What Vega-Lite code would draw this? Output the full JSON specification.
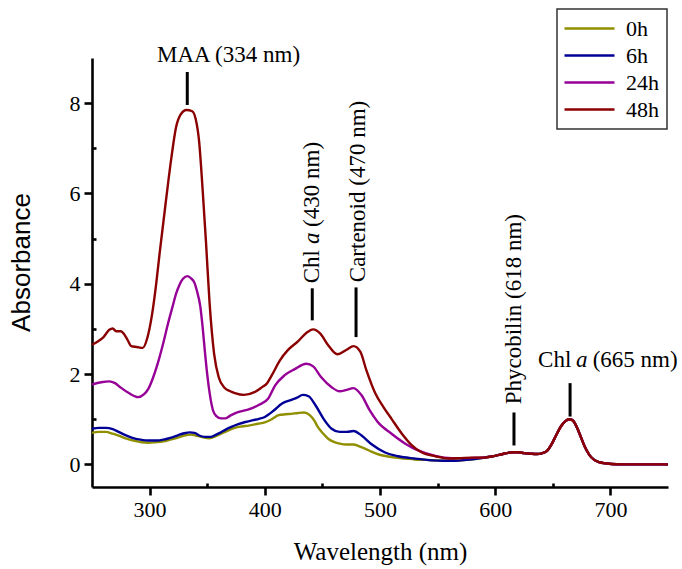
{
"$schema": "https://vega.github.io/schema/vega-lite/v6.json",
"width": 576, "height": 429,
"autosize": "none",
"padding": {"left": 92, "top": 58, "right": 14, "bottom": 82},
"background": "white",
"config": {
 "view": {"stroke": null},
 "axis": {"grid": false, "domainColor": "black", "domainWidth": 2.6, "tickColor": "black", "tickWidth": 2.6, "labelFont": "Liberation Serif, Times New Roman, serif", "labelFontSize": 22, "labelColor": "black", "titleColor": "black", "titleFontWeight": "normal"},
 "legend": {"strokeColor": "#333333", "strokeWidth": 1.5, "padding": 8, "symbolType": "M-2.5,0H2.5", "symbolSize": 400, "symbolOffset": 13, "symbolStrokeWidth": 2.5, "labelFont": "Liberation Serif, Times New Roman, serif", "labelFontSize": 22, "labelColor": "black", "labelOffset": 25, "rowPadding": 4}
},
"layer": [
 {
  "data": {"values": [
   {"s":"0h","w":250,"a":0.70},{"s":"0h","w":256,"a":0.72},{"s":"0h","w":262,"a":0.72},{"s":"0h","w":268,"a":0.68},{"s":"0h","w":273,"a":0.64},{"s":"0h","w":280,"a":0.57},{"s":"0h","w":287,"a":0.52},{"s":"0h","w":293,"a":0.49},{"s":"0h","w":299,"a":0.48},{"s":"0h","w":305,"a":0.49},{"s":"0h","w":312,"a":0.51},{"s":"0h","w":318,"a":0.55},{"s":"0h","w":324,"a":0.59},{"s":"0h","w":330,"a":0.64},{"s":"0h","w":336,"a":0.66},{"s":"0h","w":340,"a":0.64},{"s":"0h","w":345,"a":0.61},{"s":"0h","w":352,"a":0.58},{"s":"0h","w":357,"a":0.62},{"s":"0h","w":362,"a":0.68},{"s":"0h","w":368,"a":0.75},{"s":"0h","w":374,"a":0.81},{"s":"0h","w":380,"a":0.84},{"s":"0h","w":386,"a":0.86},{"s":"0h","w":394,"a":0.90},{"s":"0h","w":400,"a":0.93},{"s":"0h","w":406,"a":1.00},{"s":"0h","w":412,"a":1.09},{"s":"0h","w":418,"a":1.11},{"s":"0h","w":423,"a":1.12},{"s":"0h","w":429,"a":1.14},{"s":"0h","w":434,"a":1.15},{"s":"0h","w":439,"a":1.09},{"s":"0h","w":443,"a":0.97},{"s":"0h","w":446,"a":0.83},{"s":"0h","w":450,"a":0.70},{"s":"0h","w":455,"a":0.57},{"s":"0h","w":460,"a":0.50},{"s":"0h","w":465,"a":0.46},{"s":"0h","w":471,"a":0.44},{"s":"0h","w":477,"a":0.44},{"s":"0h","w":482,"a":0.40},{"s":"0h","w":487,"a":0.35},{"s":"0h","w":493,"a":0.28},{"s":"0h","w":499,"a":0.22},{"s":"0h","w":506,"a":0.18},{"s":"0h","w":513,"a":0.15},{"s":"0h","w":522,"a":0.13},{"s":"0h","w":530,"a":0.11},{"s":"0h","w":540,"a":0.10},{"s":"0h","w":548,"a":0.09},{"s":"0h","w":556,"a":0.08},{"s":"0h","w":565,"a":0.08},{"s":"0h","w":575,"a":0.10},{"s":"0h","w":585,"a":0.13},
   {"s":"0h","w":590,"a":0.15},{"s":"0h","w":595,"a":0.17},{"s":"0h","w":600,"a":0.19},{"s":"0h","w":605,"a":0.22},{"s":"0h","w":610,"a":0.25},{"s":"0h","w":615,"a":0.27},{"s":"0h","w":620,"a":0.27},{"s":"0h","w":625,"a":0.25},{"s":"0h","w":630,"a":0.24},{"s":"0h","w":636,"a":0.23},{"s":"0h","w":641,"a":0.25},{"s":"0h","w":645,"a":0.30},{"s":"0h","w":649,"a":0.45},{"s":"0h","w":653,"a":0.65},{"s":"0h","w":657,"a":0.84},{"s":"0h","w":661,"a":0.96},{"s":"0h","w":664,"a":1.00},{"s":"0h","w":667,"a":0.98},{"s":"0h","w":670,"a":0.87},{"s":"0h","w":674,"a":0.63},{"s":"0h","w":678,"a":0.38},{"s":"0h","w":682,"a":0.20},{"s":"0h","w":686,"a":0.10},{"s":"0h","w":690,"a":0.05},{"s":"0h","w":697,"a":0.02},{"s":"0h","w":705,"a":0.005},{"s":"0h","w":720,"a":0},{"s":"0h","w":750,"a":0},
   {"s":"6h","w":250,"a":0.79},{"s":"6h","w":256,"a":0.81},{"s":"6h","w":262,"a":0.81},{"s":"6h","w":268,"a":0.78},{"s":"6h","w":273,"a":0.72},{"s":"6h","w":279,"a":0.65},{"s":"6h","w":285,"a":0.59},{"s":"6h","w":292,"a":0.55},{"s":"6h","w":299,"a":0.53},{"s":"6h","w":306,"a":0.53},{"s":"6h","w":312,"a":0.55},{"s":"6h","w":318,"a":0.59},{"s":"6h","w":324,"a":0.64},{"s":"6h","w":330,"a":0.69},{"s":"6h","w":335,"a":0.71},{"s":"6h","w":339,"a":0.70},{"s":"6h","w":343,"a":0.64},{"s":"6h","w":348,"a":0.61},{"s":"6h","w":353,"a":0.61},{"s":"6h","w":357,"a":0.65},{"s":"6h","w":361,"a":0.70},{"s":"6h","w":366,"a":0.77},{"s":"6h","w":371,"a":0.83},{"s":"6h","w":377,"a":0.89},{"s":"6h","w":383,"a":0.94},{"s":"6h","w":390,"a":0.98},{"s":"6h","w":395,"a":1.01},{"s":"6h","w":400,"a":1.05},{"s":"6h","w":404,"a":1.12},{"s":"6h","w":408,"a":1.20},{"s":"6h","w":415,"a":1.35},{"s":"6h","w":423,"a":1.43},{"s":"6h","w":428,"a":1.48},{"s":"6h","w":433,"a":1.54},{"s":"6h","w":438,"a":1.51},{"s":"6h","w":444,"a":1.31},{"s":"6h","w":451,"a":1.01},{"s":"6h","w":458,"a":0.79},{"s":"6h","w":465,"a":0.72},{"s":"6h","w":471,"a":0.72},{"s":"6h","w":477,"a":0.74},{"s":"6h","w":484,"a":0.64},{"s":"6h","w":493,"a":0.44},{"s":"6h","w":504,"a":0.27},{"s":"6h","w":516,"a":0.18},{"s":"6h","w":530,"a":0.13},{"s":"6h","w":545,"a":0.09},{"s":"6h","w":555,"a":0.08},{"s":"6h","w":565,"a":0.08},{"s":"6h","w":575,"a":0.10},{"s":"6h","w":585,"a":0.13},
   {"s":"6h","w":590,"a":0.15},{"s":"6h","w":595,"a":0.17},{"s":"6h","w":600,"a":0.19},{"s":"6h","w":605,"a":0.22},{"s":"6h","w":610,"a":0.25},{"s":"6h","w":615,"a":0.27},{"s":"6h","w":620,"a":0.27},{"s":"6h","w":625,"a":0.25},{"s":"6h","w":630,"a":0.24},{"s":"6h","w":636,"a":0.23},{"s":"6h","w":641,"a":0.25},{"s":"6h","w":645,"a":0.30},{"s":"6h","w":649,"a":0.45},{"s":"6h","w":653,"a":0.65},{"s":"6h","w":657,"a":0.84},{"s":"6h","w":661,"a":0.96},{"s":"6h","w":664,"a":1.00},{"s":"6h","w":667,"a":0.98},{"s":"6h","w":670,"a":0.87},{"s":"6h","w":674,"a":0.63},{"s":"6h","w":678,"a":0.38},{"s":"6h","w":682,"a":0.20},{"s":"6h","w":686,"a":0.10},{"s":"6h","w":690,"a":0.05},{"s":"6h","w":697,"a":0.02},{"s":"6h","w":705,"a":0.005},{"s":"6h","w":720,"a":0},{"s":"6h","w":750,"a":0},
   {"s":"24h","w":250,"a":1.77},{"s":"24h","w":258,"a":1.82},{"s":"24h","w":265,"a":1.84},{"s":"24h","w":270,"a":1.80},{"s":"24h","w":275,"a":1.70},{"s":"24h","w":282,"a":1.58},{"s":"24h","w":290,"a":1.49},{"s":"24h","w":295,"a":1.55},{"s":"24h","w":299,"a":1.68},{"s":"24h","w":303,"a":1.92},{"s":"24h","w":307,"a":2.23},{"s":"24h","w":312,"a":2.70},{"s":"24h","w":316,"a":3.12},{"s":"24h","w":320,"a":3.50},{"s":"24h","w":323,"a":3.78},{"s":"24h","w":326,"a":3.98},{"s":"24h","w":329,"a":4.11},{"s":"24h","w":333,"a":4.17},{"s":"24h","w":336,"a":4.12},{"s":"24h","w":339,"a":4.02},{"s":"24h","w":341,"a":3.85},{"s":"24h","w":344,"a":3.50},{"s":"24h","w":346,"a":3.05},{"s":"24h","w":348,"a":2.50},{"s":"24h","w":350,"a":2.00},{"s":"24h","w":352,"a":1.60},{"s":"24h","w":355,"a":1.20},{"s":"24h","w":358,"a":1.07},{"s":"24h","w":362,"a":1.02},{"s":"24h","w":366,"a":1.02},{"s":"24h","w":370,"a":1.08},{"s":"24h","w":374,"a":1.13},{"s":"24h","w":380,"a":1.18},{"s":"24h","w":386,"a":1.22},{"s":"24h","w":395,"a":1.32},{"s":"24h","w":403,"a":1.46},{"s":"24h","w":409,"a":1.75},{"s":"24h","w":417,"a":1.97},{"s":"24h","w":426,"a":2.11},{"s":"24h","w":436,"a":2.23},{"s":"24h","w":442,"a":2.17},{"s":"24h","w":449,"a":1.93},{"s":"24h","w":458,"a":1.71},{"s":"24h","w":465,"a":1.62},{"s":"24h","w":471,"a":1.65},{"s":"24h","w":477,"a":1.69},{"s":"24h","w":484,"a":1.53},{"s":"24h","w":491,"a":1.20},{"s":"24h","w":498,"a":0.94},{"s":"24h","w":510,"a":0.68},{"s":"24h","w":522,"a":0.46},{"s":"24h","w":533,"a":0.31},{"s":"24h","w":548,"a":0.19},{"s":"24h","w":562,"a":0.14},{"s":"24h","w":575,"a":0.14},{"s":"24h","w":585,"a":0.15},
   {"s":"24h","w":590,"a":0.15},{"s":"24h","w":595,"a":0.17},{"s":"24h","w":600,"a":0.19},{"s":"24h","w":605,"a":0.22},{"s":"24h","w":610,"a":0.25},{"s":"24h","w":615,"a":0.27},{"s":"24h","w":620,"a":0.27},{"s":"24h","w":625,"a":0.25},{"s":"24h","w":630,"a":0.24},{"s":"24h","w":636,"a":0.23},{"s":"24h","w":641,"a":0.25},{"s":"24h","w":645,"a":0.30},{"s":"24h","w":649,"a":0.45},{"s":"24h","w":653,"a":0.65},{"s":"24h","w":657,"a":0.84},{"s":"24h","w":661,"a":0.96},{"s":"24h","w":664,"a":1.00},{"s":"24h","w":667,"a":0.98},{"s":"24h","w":670,"a":0.87},{"s":"24h","w":674,"a":0.63},{"s":"24h","w":678,"a":0.38},{"s":"24h","w":682,"a":0.20},{"s":"24h","w":686,"a":0.10},{"s":"24h","w":690,"a":0.05},{"s":"24h","w":697,"a":0.02},{"s":"24h","w":705,"a":0.005},{"s":"24h","w":720,"a":0},{"s":"24h","w":750,"a":0},
   {"s":"48h","w":250,"a":2.65},{"s":"48h","w":255,"a":2.72},{"s":"48h","w":260,"a":2.82},{"s":"48h","w":265,"a":2.98},{"s":"48h","w":268,"a":3.01},{"s":"48h","w":271,"a":2.95},{"s":"48h","w":275,"a":2.95},{"s":"48h","w":278,"a":2.88},{"s":"48h","w":281,"a":2.75},{"s":"48h","w":284,"a":2.62},{"s":"48h","w":289,"a":2.60},{"s":"48h","w":294,"a":2.58},{"s":"48h","w":298,"a":2.80},{"s":"48h","w":302,"a":3.30},{"s":"48h","w":305,"a":3.85},{"s":"48h","w":309,"a":4.74},{"s":"48h","w":314,"a":5.80},{"s":"48h","w":319,"a":6.81},{"s":"48h","w":323,"a":7.47},{"s":"48h","w":327,"a":7.75},{"s":"48h","w":332,"a":7.85},{"s":"48h","w":337,"a":7.82},{"s":"48h","w":340,"a":7.65},{"s":"48h","w":343,"a":7.15},{"s":"48h","w":346,"a":6.10},{"s":"48h","w":349,"a":4.90},{"s":"48h","w":352,"a":3.60},{"s":"48h","w":356,"a":2.45},{"s":"48h","w":360,"a":1.93},{"s":"48h","w":365,"a":1.70},{"s":"48h","w":370,"a":1.62},{"s":"48h","w":374,"a":1.58},{"s":"48h","w":382,"a":1.54},{"s":"48h","w":391,"a":1.60},{"s":"48h","w":397,"a":1.70},{"s":"48h","w":402,"a":1.80},{"s":"48h","w":406,"a":1.97},{"s":"48h","w":413,"a":2.30},{"s":"48h","w":420,"a":2.53},{"s":"48h","w":429,"a":2.73},{"s":"48h","w":436,"a":2.91},{"s":"48h","w":442,"a":2.99},{"s":"48h","w":448,"a":2.90},{"s":"48h","w":455,"a":2.64},{"s":"48h","w":463,"a":2.44},{"s":"48h","w":471,"a":2.54},{"s":"48h","w":477,"a":2.62},{"s":"48h","w":483,"a":2.49},{"s":"48h","w":488,"a":2.10},{"s":"48h","w":496,"a":1.57},{"s":"48h","w":503,"a":1.27},{"s":"48h","w":510,"a":1.01},{"s":"48h","w":519,"a":0.68},{"s":"48h","w":527,"a":0.44},{"s":"48h","w":536,"a":0.27},{"s":"48h","w":548,"a":0.18},{"s":"48h","w":560,"a":0.13},{"s":"48h","w":570,"a":0.14},{"s":"48h","w":580,"a":0.15},
   {"s":"48h","w":590,"a":0.15},{"s":"48h","w":595,"a":0.17},{"s":"48h","w":600,"a":0.19},{"s":"48h","w":605,"a":0.22},{"s":"48h","w":610,"a":0.25},{"s":"48h","w":615,"a":0.27},{"s":"48h","w":620,"a":0.27},{"s":"48h","w":625,"a":0.25},{"s":"48h","w":630,"a":0.24},{"s":"48h","w":636,"a":0.23},{"s":"48h","w":641,"a":0.25},{"s":"48h","w":645,"a":0.30},{"s":"48h","w":649,"a":0.45},{"s":"48h","w":653,"a":0.65},{"s":"48h","w":657,"a":0.84},{"s":"48h","w":661,"a":0.96},{"s":"48h","w":664,"a":1.00},{"s":"48h","w":667,"a":0.98},{"s":"48h","w":670,"a":0.87},{"s":"48h","w":674,"a":0.63},{"s":"48h","w":678,"a":0.38},{"s":"48h","w":682,"a":0.20},{"s":"48h","w":686,"a":0.10},{"s":"48h","w":690,"a":0.05},{"s":"48h","w":697,"a":0.02},{"s":"48h","w":705,"a":0.005},{"s":"48h","w":720,"a":0},{"s":"48h","w":750,"a":0}
  ]},
  "mark": {"type": "line", "interpolate": "monotone", "strokeWidth": 2.4},
  "encoding": {
   "x": {"field": "w", "type": "quantitative", "scale": {"domain": [250, 750], "nice": false, "zero": false},
     "axis": {"title": "Wavelength (nm)", "titleFont": "Liberation Serif, Times New Roman, serif", "titleFontSize": 25, "titlePadding": 19,
       "values": [300, 350, 400, 450, 500, 550, 600, 650, 700],
       "labelExpr": "datum.value % 100 === 0 ? datum.label : ''",
       "tickSize": {"condition": {"test": "datum.value % 100 === 0", "value": 8}, "value": -4},
       "labelPadding": 4}},
   "y": {"field": "a", "type": "quantitative", "scale": {"domain": [-0.5, 9], "nice": false, "zero": false},
     "axis": {"title": "Absorbance", "titleFont": "Liberation Sans, Arial, sans-serif", "titleFontSize": 26, "titlePadding": 35, "titleY": 204,
       "values": [0, 1, 2, 3, 4, 5, 6, 7, 8],
       "labelExpr": "datum.value % 2 === 0 ? datum.label : ''",
       "tickSize": {"condition": {"test": "datum.value % 2 === 0", "value": 8}, "value": -4},
       "labelPadding": 4}},
   "color": {"field": "s", "type": "nominal",
     "scale": {"domain": ["0h", "6h", "24h", "48h"], "range": ["#8f8f00", "#000096", "#960096", "#8b0000"]},
     "legend": {"title": null, "orient": "none", "legendX": 465, "legendY": -49}}
  }
 },
 {
  "data": {"values": [
   {"w": 332.7, "y1": 7.96, "y2": 8.69},
   {"w": 441.2, "y1": 3.19, "y2": 3.90},
   {"w": 479.2, "y1": 2.82, "y2": 3.92},
   {"w": 616.3, "y1": 0.42, "y2": 1.15},
   {"w": 665, "y1": 1.06, "y2": 1.80}
  ]},
  "mark": {"type": "rule", "color": "black", "strokeWidth": 3},
  "encoding": {"x": {"field": "w", "type": "quantitative"}, "y": {"field": "y1", "type": "quantitative"}, "y2": {"field": "y2"}}
 },
 {
  "data": {"values": [{"t": "MAA (334 nm)", "w": 368.5, "y": 8.92}]},
  "mark": {"type": "text", "font": "Liberation Serif, Times New Roman, serif", "fontSize": 23, "color": "black", "align": "center", "baseline": "alphabetic"},
  "encoding": {"x": {"field": "w", "type": "quantitative"}, "y": {"field": "y", "type": "quantitative"}, "text": {"field": "t"}}
 },
 {
  "data": {"values": [{"t": "Chl", "w": 637.2, "y": 2.156}, {"t": "(665 nm)", "w": 684.6, "y": 2.156}]},
  "mark": {"type": "text", "font": "Liberation Serif, Times New Roman, serif", "fontSize": 23, "color": "black", "align": "left", "baseline": "alphabetic"},
  "encoding": {"x": {"field": "w", "type": "quantitative"}, "y": {"field": "y", "type": "quantitative"}, "text": {"field": "t"}}
 },
 {
  "data": {"values": [{"t": "a", "w": 670.1, "y": 2.156}]},
  "mark": {"type": "text", "font": "Liberation Serif, Times New Roman, serif", "fontSize": 23, "fontStyle": "italic", "color": "black", "align": "left", "baseline": "alphabetic"},
  "encoding": {"x": {"field": "w", "type": "quantitative"}, "y": {"field": "y", "type": "quantitative"}, "text": {"field": "t"}}
 },
 {
  "data": {"values": [
   {"t": "Chl", "w": 441.2, "y": 4.01},
   {"t": "(430 nm)", "w": 441.2, "y": 5.26},
   {"t": "Cartenoid (470 nm)", "w": 481, "y": 4.035},
   {"t": "Phycobilin (618 nm)", "w": 616.3, "y": 1.33}
  ]},
  "mark": {"type": "text", "font": "Liberation Serif, Times New Roman, serif", "fontSize": 23, "color": "black", "align": "left", "baseline": "middle", "angle": 270},
  "encoding": {"x": {"field": "w", "type": "quantitative"}, "y": {"field": "y", "type": "quantitative"}, "text": {"field": "t"}}
 },
 {
  "data": {"values": [{"t": "a", "w": 441.2, "y": 4.88}]},
  "mark": {"type": "text", "font": "Liberation Serif, Times New Roman, serif", "fontSize": 23, "fontStyle": "italic", "color": "black", "align": "left", "baseline": "middle", "angle": 270},
  "encoding": {"x": {"field": "w", "type": "quantitative"}, "y": {"field": "y", "type": "quantitative"}, "text": {"field": "t"}}
 }
]
}
